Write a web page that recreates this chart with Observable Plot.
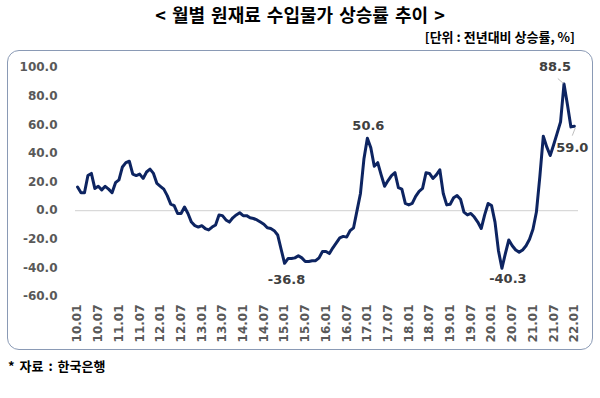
<!DOCTYPE html>
<html><head><meta charset="utf-8">
<script src="https://cdn.jsdelivr.net/npm/d3@7"></script>
<script src="https://cdn.jsdelivr.net/npm/@observablehq/plot@0.6"></script>
<style>
body{margin:0;background:#fff;width:600px;height:398px;overflow:hidden;position:relative;font-family:"Noto Sans CJK KR",sans-serif;}
#title{position:absolute;left:0;top:1px;width:600px;text-align:center;font-size:18px;font-weight:bold;color:#000;word-spacing:2px;}
#sub{position:absolute;right:25px;top:27px;font-size:13px;font-weight:bold;color:#000;}
#box{position:absolute;left:7px;top:50px;width:584px;height:298px;border:1.3px solid #8a9ab5;border-radius:12px;}
#box svg{position:absolute;left:0;top:0;}
#src{position:absolute;left:8px;top:356px;font-size:13px;font-weight:bold;color:#000;word-spacing:2px;}
</style></head><body>
<div id="title">&lt; 월별 원재료 수입물가 상승률 추이 &gt;</div>
<div id="sub">[단위 : 전년대비 상승률, %]</div>
<div id="box"></div>
<div id="src">* 자료 : 한국은행</div>
<script>
// monthly YoY growth of raw material import prices, 2010.01 - 2022.01
const values = [
  16.5, 12.5, 12.5, 24.5, 26, 15.5, 17, 14.5, 17, 15, 12.5, 19.5,        // 2010
  21.5, 30.5, 33.5, 34.5, 25.5, 24.5, 25.5, 22.5, 27, 29, 26, 19,        // 2011
  17, 15, 10.5, 4.5, 3.5, -2, -2, 2.5, -2, -8, -10.5, -11.5,             // 2012
  -10.5, -12.5, -13.5, -11.5, -10, -3, -3.5, -6.5, -8, -5, -3, -1.5,     // 2013
  -3.5, -3.5, -5, -5.5, -6.5, -8, -9.5, -12, -12.5, -14, -17, -27,       // 2014
  -36.8, -33.5, -33.5, -33, -31.5, -33, -35.5, -35.5, -35, -35, -33, -28.5, // 2015
  -28.5, -30, -26, -22.5, -19, -18, -18.5, -14, -12, 0, 12, 36,          // 2016
  50.6, 44, 31, 33.5, 25, 17, 21, 24.5, 26.5, 16, 15, 5,                 // 2017
  4, 5, 10, 13.5, 15.5, 26.5, 26, 22.5, 25, 28.5, 12, 4,                 // 2018
  4.5, 9, 10.5, 8, -1, -3, -2, -4.5, -8, -12.5, -3, 5,                   // 2019
  3.5, -8, -28, -40.3, -30, -20.5, -24.5, -27.5, -29, -27.5, -24.5, -20, // 2020
  -13, -1, 24, 52, 44.5, 38.5, 46, 54, 62, 88.5, 74, 58.5,               // 2021
  59.0                                                                   // 2022.01
];
const tickLabels = ["10.01","10.07","11.01","11.07","12.01","12.07","13.01","13.07","14.01","14.07",
  "15.01","15.07","16.01","16.07","17.01","17.07","18.01","18.07","19.01","19.07",
  "20.01","20.07","21.01","21.07","22.01"];
const yTicks = [-60, -40, -20, 0, 20, 40, 60, 80, 100];
const annotIndex = [60, 84, 123, 141, 144];
const annotText = ["-36.8", "50.6", "-40.3", "88.5", "59.0"];
const annotDx = [2, 1, 6, -9, -2];
const annotDy = [16.5, -12.3, 10.5, -17.4, 21.7];
const leaderIndex = [141, 144];
const leaderOffsets = [[-1.8, 3.8, -0.2, 0.4], [0.3, -1, -0.6, -6.6]];

const data = values.map((v, i) => ({i, v}));
const tickIdx = tickLabels.map((_, k) => k * 6);
const leaders = leaderIndex.map((i, k) => ({i, v: values[i], o: leaderOffsets[k]}));
const annotMarks = annotIndex.map((i, k) =>
  Plot.text([{i, v: values[i], text: annotText[k]}], {x: "i", y: "v", text: "text",
    dx: annotDx[k], dy: annotDy[k], fill: "#404040", fontSize: 13, fontWeight: "bold"}));

const chart = Plot.plot({
  width: 584, height: 298,
  marginTop: 16, marginBottom: 53, marginLeft: 67, marginRight: 14,
  style: {fontFamily: "DejaVu Sans", fontSize: "12px", fontWeight: "bold", color: "#595959", background: "transparent"},
  x: {domain: [-0.6, 145.2]},
  y: {domain: [-60, 100]},
  marks: [
    Plot.ruleY([0], {stroke: "#d9d9d9", strokeWidth: 1.2}),
    Plot.axisY({ticks: yTicks, tickSize: 0, tickPadding: 18, tickFormat: d => d.toFixed(1), label: null}),
    Plot.axisX({ticks: tickIdx, tickSize: 0, tickPadding: 8, tickRotate: -90,
      tickFormat: d => tickLabels[d / 6], label: null}),
    Plot.line(data, {x: "i", y: "v", stroke: "#0d2461", strokeWidth: 3, strokeLinejoin: "round"}),
    Plot.link(leaders, {x1: d => d.i + d.o[0], y1: d => d.v + d.o[1], x2: d => d.i + d.o[2], y2: d => d.v + d.o[3],
      stroke: "#bfbfbf", strokeWidth: 1}),
    ...annotMarks
  ]
});
document.getElementById("box").appendChild(chart);
</script>
</body></html>
